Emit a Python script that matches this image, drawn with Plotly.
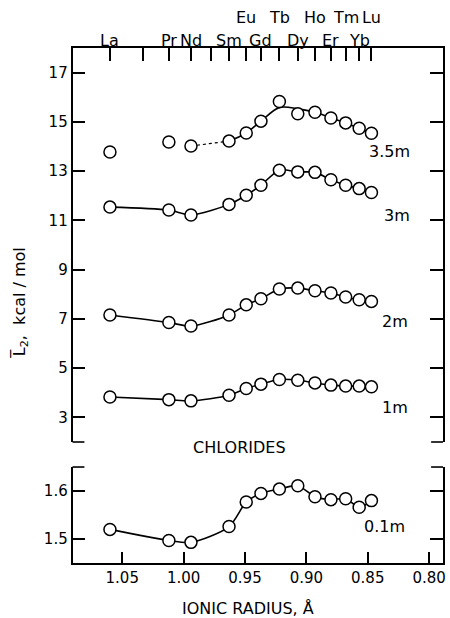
import plotly.graph_objects as go

# ---- data ----
elements = ["La", "Ce", "Pr", "Nd", "Pm", "Sm", "Eu", "Gd", "Tb", "Dy", "Ho", "Er", "Tm", "Yb", "Lu"]
radii = [1.060, 1.033, 1.012, 0.994, 0.978, 0.963, 0.949, 0.937, 0.922, 0.907, 0.893, 0.880, 0.868, 0.857, 0.847]
label_row1 = ["La", "Pr", "Nd", "Sm", "Gd", "Dy", "Er", "Yb"]
label_row2 = ["Eu", "Tb", "Ho", "Tm", "Lu"]

meas_el = ["La", "Pr", "Nd", "Sm", "Eu", "Gd", "Tb", "Dy", "Ho", "Er", "Tm", "Yb", "Lu"]
L2_3p5m = [13.78, 14.18, 14.02, 14.22, 14.55, 15.03, 15.83, 15.33, 15.39, 15.16, 14.96, 14.74, 14.54]
fit_el_3p5m = ["Sm", "Eu", "Gd", "Tb", "Dy", "Ho", "Er", "Tm", "Yb", "Lu"]
L2_3p5m_fit = [14.22, 14.55, 15.03, 15.58, 15.53, 15.39, 15.16, 14.96, 14.74, 14.54]
dash_el_3p5m = ["Nd", "Sm"]
L2_3p5m_dash = [14.02, 14.22]
L2_3m = [11.54, 11.42, 11.22, 11.65, 12.02, 12.43, 13.04, 12.97, 12.95, 12.65, 12.43, 12.29, 12.13]
L2_2m = [7.16, 6.85, 6.71, 7.16, 7.57, 7.82, 8.21, 8.25, 8.14, 8.05, 7.89, 7.78, 7.71]
L2_1m = [3.83, 3.72, 3.67, 3.90, 4.17, 4.35, 4.54, 4.51, 4.40, 4.31, 4.27, 4.27, 4.24]
L2_01m = [1.520, 1.497, 1.493, 1.526, 1.577, 1.595, 1.604, 1.611, 1.588, 1.582, 1.584, 1.566, 1.580]

series_labels = ["3.5m", "3m", "2m", "1m"]
series_label_x = [0.8324, 0.826, 0.8275, 0.8275]
series_label_y = [13.78, 11.2, 6.88, 3.41]

x_ticks = [1.05, 1.00, 0.95, 0.90, 0.85, 0.80]
x_ticktext = ["1.05", "1.00", "0.95", "0.90", "0.85", "0.80"]
y_ticks_top = [3, 5, 7, 9, 11, 13, 15, 17]
y_ticks_bot = [1.5, 1.6]

rad = dict(zip(elements, radii))
xm = [rad[e] for e in meas_el]

FONT = "DejaVu Sans"
LW = 1.6
marker = dict(symbol="circle", size=12, color="white", line=dict(color="black", width=1.5))

fig = go.Figure()

def add_series(y, xa, ya):
    fig.add_trace(go.Scatter(x=xm, y=y, mode="lines+markers", xaxis=xa, yaxis=ya,
                             line=dict(color="black", width=LW, shape="spline", smoothing=0.8),
                             marker=marker, showlegend=False, cliponaxis=False))

# 3.5 m: fitted curve (solid) + dashed extension + points
fig.add_trace(go.Scatter(x=[rad[e] for e in fit_el_3p5m], y=L2_3p5m_fit, mode="lines",
                         xaxis="x2", yaxis="y",
                         line=dict(color="black", width=LW, shape="spline", smoothing=1.0),
                         showlegend=False))
fig.add_trace(go.Scatter(x=[rad[e] for e in dash_el_3p5m], y=L2_3p5m_dash, mode="lines",
                         xaxis="x2", yaxis="y",
                         line=dict(color="black", width=1.2, dash="3px,3px"),
                         showlegend=False))
fig.add_trace(go.Scatter(x=xm, y=L2_3p5m, mode="markers", xaxis="x2", yaxis="y",
                         marker=marker, showlegend=False))
add_series(L2_3m, "x2", "y")
add_series(L2_2m, "x2", "y")
add_series(L2_1m, "x2", "y")
add_series(L2_01m, "x", "y2")

xdom = [0.1622, 0.9911]
ytop = [0.2848, 0.9223]
ybot = [0.0890, 0.2443]
xrange_ = [1.0905, 0.7887]

axis_common = dict(showgrid=False, zeroline=False, showline=True, linecolor="black",
                   linewidth=LW, ticks="inside", tickcolor="black", tickwidth=LW,
                   tickfont=dict(family=FONT, size=15, color="black"))

fig.update_layout(
    width=450, height=618,
    margin=dict(l=0, r=0, t=0, b=0),
    paper_bgcolor="white", plot_bgcolor="white",
    font=dict(family=FONT, size=15, color="black"),
    xaxis=dict(domain=xdom, range=xrange_, anchor="y2", tickvals=x_ticks,
               ticktext=x_ticktext, ticklen=11, mirror=False, **axis_common),
    xaxis2=dict(domain=xdom, range=xrange_, anchor="y", side="top", tickvals=radii,
                showticklabels=False, ticklen=13, mirror=False, **axis_common),
    yaxis=dict(domain=ytop, range=[2, 18], anchor="x", tickvals=y_ticks_top,
               ticklen=13, mirror="ticks", **axis_common),
    yaxis2=dict(domain=ybot, range=[1.45, 1.65], anchor="x", tickvals=y_ticks_bot,
                ticklen=13, mirror="ticks", **axis_common),
)

# small corner marks where panels end
mk = 12 / 450
shapes = []
for yy in (ytop[0], ybot[1]):
    shapes.append(dict(type="line", xref="paper", yref="paper", x0=xdom[0], x1=xdom[0] + mk,
                       y0=yy, y1=yy, line=dict(color="black", width=LW)))
    shapes.append(dict(type="line", xref="paper", yref="paper", x0=xdom[1] - mk, x1=xdom[1],
                       y0=yy, y1=yy, line=dict(color="black", width=LW)))
fig.update_layout(shapes=shapes)

A = dict(showarrow=False, xanchor="center", yanchor="middle", font=dict(size=16, color="black"))
ann = []
for e in label_row1:
    ann.append(dict(x=rad[e], xref="x", y=1 - 40 / 618, yref="paper", text=e, **A))
for e in label_row2:
    ann.append(dict(x=rad[e], xref="x", y=1 - 18 / 618, yref="paper", text=e, **A))
for t, xx, yy in zip(series_labels, series_label_x, series_label_y):
    ann.append(dict(x=xx, xref="x2", y=yy, yref="y", text=t, **A))
ann.append(dict(x=0.8364, xref="x", y=1.527, yref="y2", text="0.1m", **A))
ann.append(dict(x=0.9545, xref="x", y=1 - 447 / 618, yref="paper", text="CHLORIDES", **A))
ann.append(dict(x=250 / 450, xref="paper", y=1 - 608 / 618, yref="paper",
                text="IONIC RADIUS, Å", **A))
ann.append(dict(x=20 / 450, xref="paper", y=1 - 303 / 618, yref="paper",
                text="L\u0305<sub>2</sub>,  kcal / mol", textangle=-90, **A))
fig.update_layout(annotations=ann)

fig.write_html("out.html")
